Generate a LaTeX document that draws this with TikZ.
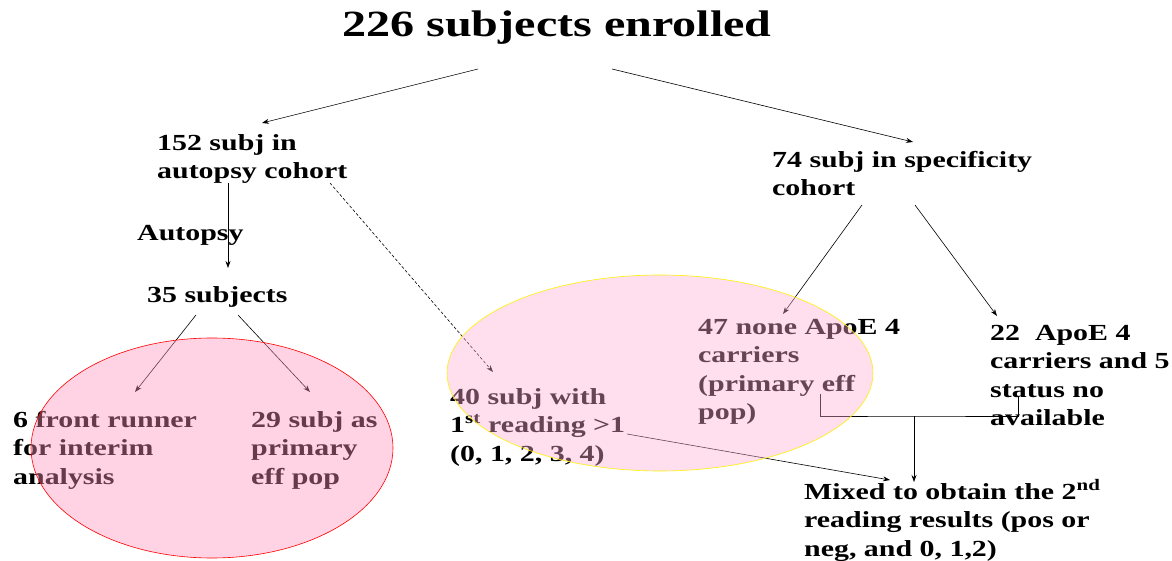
\documentclass[tikz,border=0pt]{standalone}
\usepackage{fontspec}
\setmainfont{Liberation Serif}[FakeStretch=1.3]
\usepackage{tikz}
\usetikzlibrary{arrows.meta, positioning, calc}
\usepackage{xcolor}
\definecolor{redfill}{RGB}{255,145,187}
\definecolor{yelfill}{RGB}{255,172,212}
\newcommand{\bodyfont}{\fontsize{23}{28.5}\selectfont\bfseries}

\begin{document}
\begin{tikzpicture}[x=1pt, y=-1pt,
    txt/.style={anchor=north west, inner sep=0pt, align=left, font=\bodyfont},
    arr/.style={-{Stealth[length=7pt, width=5pt]}, line width=0.6pt},
    plain/.style={line width=0.6pt}]
  \useasboundingbox (0,0) rectangle (1172,561);

  \node[anchor=base, inner sep=0pt, font=\fontsize{37}{44}\selectfont\bfseries] (enrolled) at (557,37) {226 subjects enrolled};

  \node[txt] (autopsy) at (157,130) {\strut 152 subj in\\autopsy cohort};
  \node[txt] (autolbl) at (137,220) {\strut Autopsy};
  \node[txt] (thirtyfive) at (147,282) {\strut 35 subjects};
  \node[txt] (spec) at (772,147) {\strut 74 subj in specificity\\cohort};
  \node[txt] (noncarr) at (698,314) {\strut 47 none ApoE 4\\carriers\\(primary eff\\pop)};
  \node[txt] (carr) at (990,320) {\strut 22~ ApoE 4\\carriers and 5\\status no\\available};
  \node[txt] (reading) at (450,384) {\strut 40 subj with\\1\textsuperscript{st} reading >1\\(0, 1, 2, 3, 4)};
  \node[txt] (front) at (13,407) {\strut 6 front runner\\for interim\\analysis};
  \node[txt] (eff) at (251,407) {\strut 29 subj as\\primary\\eff pop};
  \node[txt] (mixed) at (804,479) {\strut Mixed to obtain the 2\textsuperscript{nd}\\reading results (pos or\\neg, and 0, 1,2)};

  % connectors
  \draw[arr] ($(enrolled.base)+(-79,32)$) -- ($(autopsy.north west)+(105,-7)$);
  \draw[arr] ($(enrolled.base)+(55,32)$) -- ($(spec.north west)+(141,-5)$);
  \draw[arr] ($(autopsy.north west)+(71,53)$) -- ($(thirtyfive.north west)+(81,-14)$);
  \draw[arr, dash pattern=on 3pt off 2pt] ($(autopsy.north west)+(173,53)$) -- ($(reading.north west)+(43,-12)$);
  \draw[arr] ($(spec.north west)+(90,58)$) -- ($(noncarr.north west)+(85,0)$);
  \draw[arr] ($(spec.north west)+(143,58)$) -- ($(carr.north west)+(7,-4)$);
  \draw[arr] ($(thirtyfive.north west)+(49,33)$) -- ($(front.north west)+(122,-15)$);
  \draw[arr] ($(thirtyfive.north west)+(91,33)$) -- ($(eff.north west)+(59,-15)$);
  \draw[arr] ($(reading.north west)+(177,50)$) -- ($(mixed.north west)+(86,1)$);

  \coordinate (join) at ($(carr.north west)+(-76,96)$);
  \draw[plain] ($(noncarr.north west)+(122,80)$) |- (join) -| ($(carr.north west)+(28,77)$);
  \draw[arr] (join) -- ($(mixed.north west)+(110,3)$);

  % overlays
  \fill[redfill, fill opacity=0.4] (212,448) ellipse (181 and 110);
  \draw[red, line width=0.6pt] (212,448) ellipse (181 and 110);
  \fill[yelfill, fill opacity=0.4] (660,373) ellipse (213 and 98);
  \draw[yellow, line width=0.6pt] (660,373) ellipse (213 and 98);
\end{tikzpicture}
\end{document}
